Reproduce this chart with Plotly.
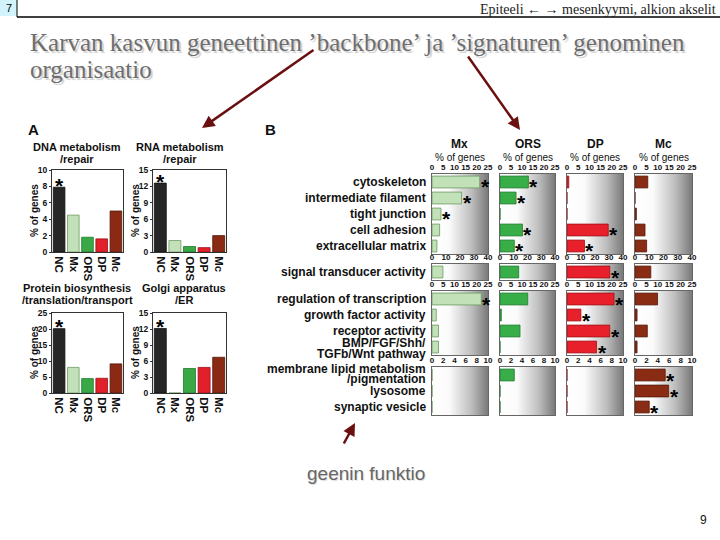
import plotly.graph_objects as go

W, H = 720, 540
SANS = "Arial, 'Liberation Sans', sans-serif"
SERIF = "'Times New Roman', 'Liberation Serif', serif"

# ---------------- data ----------------
cell_groups = ["NC", "Mx", "ORS", "DP", "Mc"]
dna_metabolism = [7.9, 4.5, 1.8, 1.6, 5.0]
rna_metabolism = [12.6, 2.1, 1.0, 0.8, 3.0]
protein_biosynthesis = [20.1, 8.0, 4.5, 4.6, 9.1]
golgi_er = [12.1, 0.0, 4.6, 4.8, 6.7]
a_title_lines = [["DNA metabolism", "/repair"], ["RNA metabolism", "/repair"],
                 ["Protein biosynthesis", "/translation/transport"], ["Golgi apparatus", "/ER"]]
a_ymax = [10, 15, 25, 15]
a_dtick = [2, 3, 5, 3]
a_star_group = "NC"

b_columns = ["Mx", "ORS", "DP", "Mc"]

structure_terms = ["cytoskeleton", "intermediate filament", "tight junction",
                   "cell adhesion", "extracellular matrix"]
structure_mx = [21.3, 13.2, 4.0, 3.4, 2.2]
structure_ors = [12.9, 7.3, 0.0, 10.2, 6.5]
structure_dp = [0.8, 0.0, 0.0, 18.4, 7.8]
structure_mc = [5.6, 0.0, 0.6, 4.4, 5.1]
structure_sig_mx = [1, 1, 1, 0, 0]
structure_sig_ors = [1, 1, 0, 1, 1]
structure_sig_dp = [0, 0, 0, 1, 1]
structure_sig_mc = [0, 0, 0, 0, 0]

signal_terms = ["signal transducer activity"]
signal_mx = [7.8]
signal_ors = [13.6]
signal_dp = [30.6]
signal_mc = [11.1]
signal_sig_mx = [0]
signal_sig_ors = [0]
signal_sig_dp = [1]
signal_sig_mc = [0]

regulation_terms = ["regulation of transcription", "growth factor activity",
                    "receptor activity", "BMP/FGF/Shh/<br>TGFb/Wnt pathway"]
regulation_mx = [22.0, 1.9, 2.9, 2.9]
regulation_ors = [12.6, 0.6, 9.1, 0.0]
regulation_dp = [21.0, 6.2, 19.1, 13.2]
regulation_mc = [9.9, 0.9, 5.4, 0.9]
regulation_sig_mx = [1, 0, 0, 0]
regulation_sig_ors = [0, 0, 0, 0]
regulation_sig_dp = [1, 1, 1, 1]
regulation_sig_mc = [0, 0, 0, 0]

metabolism_terms = ["membrane lipid metabolism<br>/pigmentation", "lysosome", "synaptic vesicle"]
metabolism_mx = [0.0, 0.0, 0.0]
metabolism_ors = [2.6, 0.0, 0.0]
metabolism_dp = [0.0, 0.0, 0.0]
metabolism_mc = [5.3, 5.9, 2.5]
metabolism_sig_mx = [0, 0, 0]
metabolism_sig_ors = [0, 0, 0]
metabolism_sig_dp = [0, 0, 0]
metabolism_sig_mc = [1, 1, 1]

b_axis_max = [25, 40, 25, 10]
b_axis_ticks = [[0, 5, 10, 15, 20, 25], [0, 10, 20, 30, 40],
                [0, 5, 10, 15, 20, 25], [0, 2, 4, 6, 8, 10]]

# ---------------- styling ----------------
a_fill = ["#262626", "#c2e1b8", "#3aa845", "#e2202c", "#8a2a15"]
a_line = ["#111111", "#6f9a64", "#1f7a2c", "#9a1018", "#541708"]
b_fill = {"Mx": "#c2e1b8", "ORS": "#38ae48", "DP": "#e8202b", "Mc": "#8a2b14"}
b_line = {"Mx": "#6a9a5f", "ORS": "#1f7a2e", "DP": "#a01018", "Mc": "#56180a"}
bg_scale = [[0, "#ffffff"], [0.3, "#fbfbfb"], [0.7, "#bdbdbd"], [1, "#777777"]]


def px(x):
    return x / W


def py(y):
    return 1 - y / H


def xd(x0, x1):
    return [px(x0), px(x1)]


def yd(top, bottom):
    return [py(bottom), py(top)]


fig = go.Figure()
layout = {}
annotations = []
shapes = []
ax_i = [0]


def new_axes():
    ax_i[0] += 1
    i = ax_i[0]
    s = "" if i == 1 else str(i)
    return i, "x" + s, "y" + s, "xaxis" + s, "yaxis" + s


def paper_text(x, y, text, font, xanchor="center", **kw):
    d = dict(x=px(x), y=py(y), xref="paper", yref="paper", text=text, showarrow=False,
             xanchor=xanchor, yanchor="middle", font=font)
    d.update(kw)
    annotations.append(d)


star_font = dict(family=SANS, size=21, color="#000", weight="bold")

# ---------------- Panel A ----------------
a_data = [dna_metabolism, rna_metabolism, protein_biosynthesis, golgi_er]
a_boxes = [(52, 123, 170, 252), (153, 226, 170, 252), (52, 123, 313, 393), (153, 226, 313, 393)]
a_title_x = [77, 180, 77, 184]
a_title_y = [(147, 159), (147, 159), (288, 300), (288, 300)]
a_title_font = dict(family=SANS, size=11, color="#111", weight="bold")

for k in range(4):
    i, xr, yr, xk, yk = new_axes()
    x0, x1, t, b = a_boxes[k]
    vals = a_data[k]
    fig.add_trace(go.Bar(x=cell_groups, y=vals, xaxis=xr, yaxis=yr, width=0.82,
                         marker=dict(color=a_fill, line=dict(color=a_line, width=0.8)),
                         showlegend=False, hoverinfo="skip"))
    layout[xk] = dict(domain=xd(x0, x1), anchor=yr, type="category",
                      categoryorder="array", categoryarray=cell_groups,
                      tickmode="array", tickvals=cell_groups, ticktext=cell_groups,
                      tickangle=90, ticks="", showline=True, mirror=True,
                      linecolor="#333", linewidth=1, showgrid=False, ticklabelstandoff=1,
                      tickfont=dict(family=SANS, size=11.5, color="#111", weight="bold"))
    layout[yk] = dict(domain=yd(t, b), anchor=xr, range=[0, a_ymax[k]],
                      tickmode="linear", tick0=0, dtick=a_dtick[k],
                      ticks="outside", ticklen=2, tickcolor="#333", showline=True, mirror=True,
                      linecolor="#333", linewidth=1, showgrid=False, zeroline=False,
                      tickangle=0, ticklabelstandoff=0,
                      tickfont=dict(family=SANS, size=8.5, color="#111", weight="bold"))
    annotations.append(dict(x=a_star_group, y=vals[cell_groups.index(a_star_group)], xref=xr, yref=yr,
                            text="*", showarrow=False, xanchor="center", yanchor="middle", yshift=2,
                            font=star_font))
    paper_text(x0 - 18, (t + b) / 2, "% of genes",
               dict(family=SANS, size=10, color="#111", weight="bold"), textangle=-90)
    for line, yy in zip(a_title_lines[k], a_title_y[k]):
        paper_text(a_title_x[k], yy, line, a_title_font)

# ---------------- Panel B ----------------
b_groups = [
    (structure_terms, [structure_mx, structure_ors, structure_dp, structure_mc],
     [structure_sig_mx, structure_sig_ors, structure_sig_dp, structure_sig_mc]),
    (signal_terms, [signal_mx, signal_ors, signal_dp, signal_mc],
     [signal_sig_mx, signal_sig_ors, signal_sig_dp, signal_sig_mc]),
    (regulation_terms, [regulation_mx, regulation_ors, regulation_dp, regulation_mc],
     [regulation_sig_mx, regulation_sig_ors, regulation_sig_dp, regulation_sig_mc]),
    (metabolism_terms, [metabolism_mx, metabolism_ors, metabolism_dp, metabolism_mc],
     [metabolism_sig_mx, metabolism_sig_ors, metabolism_sig_dp, metabolism_sig_mc]),
]
b_cols_px = [(432, 488), (500, 555), (567, 623), (635, 692)]
b_rows_px = [(174, 254), (264, 280), (291, 355), (367, 415)]
label_font = dict(family=SANS, size=12, color="#111", weight="bold")
# vertical pixel shifts of the two lines of wrapped row labels, per group
two_line_shifts = {2: (4, -7), 3: (6, -4)}

for g, (terms, series, sigs) in enumerate(b_groups):
    n = len(terms)
    pos = list(range(n))
    xmax = b_axis_max[g]
    for c, col in enumerate(b_columns):
        i, xr, yr, xk, yk = new_axes()
        x0, x1 = b_cols_px[c]
        t, b = b_rows_px[g]
        fig.add_trace(go.Heatmap(z=[[0, 1], [0, 1]], x=[0, xmax], y=[-0.5, n - 0.5],
                                 colorscale=bg_scale, zmin=0, zmax=1, zsmooth="best",
                                 showscale=False, hoverinfo="skip", xaxis=xr, yaxis=yr))
        fig.add_trace(go.Bar(x=series[c], y=pos, orientation="h", width=0.74,
                             marker=dict(color=b_fill[col], line=dict(color=b_line[col], width=0.8)),
                             xaxis=xr, yaxis=yr, showlegend=False, hoverinfo="skip"))
        for p, v, s in zip(pos, series[c], sigs[c]):
            if s:
                annotations.append(dict(x=v, y=p, xref=xr, yref=yr, text="*", showarrow=False,
                                        xanchor="left", yanchor="middle", xshift=-1, yshift=-5,
                                        font=star_font))
        layout[xk] = dict(domain=xd(x0, x1), anchor=yr, range=[0, xmax], side="top",
                          tickmode="array", tickvals=b_axis_ticks[g], tickangle=0,
                          ticks="", showline=True, mirror=True,
                          linecolor="#666", linewidth=1, showgrid=False, zeroline=False,
                          ticklabelstandoff=0,
                          tickfont=dict(family=SANS, size=8, color="#111", weight="bold"))
        layout[yk] = dict(domain=yd(t, b), anchor=xr, range=[n - 0.5, -0.5],
                          tickmode="array", tickvals=pos, showticklabels=False, ticks="",
                          showline=True, mirror=True, linecolor="#666", linewidth=1,
                          showgrid=False, zeroline=False)
        if c == 0:
            for p, term in zip(pos, terms):
                lines = term.split("<br>")
                shifts = [0] if len(lines) == 1 else list(two_line_shifts.get(g, (5, -5)))
                for line, sh in zip(lines, shifts):
                    annotations.append(dict(x=px(x0 - 4), y=p, xref="paper", yref=yr, text=line,
                                            showarrow=False, xanchor="right", yanchor="middle",
                                            yshift=sh, font=label_font))

for c, col in enumerate(b_columns):
    cx = (b_cols_px[c][0] + b_cols_px[c][1]) / 2
    paper_text(cx, 144, col, dict(family=SANS, size=12, color="#111", weight="bold"))
    paper_text(cx, 157, "% of genes", dict(family=SANS, size=10, color="#111"))

paper_text(33, 130, "A", dict(family=SANS, size=15, color="#111", weight="bold"))
paper_text(270, 130, "B", dict(family=SANS, size=15, color="#111", weight="bold"))

# ---------------- slide decoration ----------------
shapes.append(dict(type="rect", xref="paper", yref="paper", x0=px(0), x1=px(17), y0=py(16), y1=py(0),
                   fillcolor="#d2f3fb", line=dict(width=0)))
shapes.append(dict(type="line", xref="paper", yref="paper", x0=px(17), x1=px(17), y0=py(17), y1=py(0),
                   line=dict(color="#000", width=1)))
shapes.append(dict(type="line", xref="paper", yref="paper", x0=px(17), x1=px(720), y0=py(17), y1=py(17),
                   line=dict(color="#000", width=1.5)))
paper_text(8.5, 8, "7", dict(family=SANS, size=11, color="#000"))
paper_text(718, 9, "Epiteeli \u2190 \u2192 mesenkyymi, alkion akselit",
           dict(family=SERIF, size=14, color="#222"), xanchor="right")
for txt, yy in [("Karvan kasvun geneettinen \u2019backbone\u2019 ja \u2019signaturen\u2019 genominen", 43),
                ("organisaatio", 69)]:
    paper_text(28, yy, txt, dict(family=SERIF, size=25, color="#6e6e6e", shadow="2px 2px 1px #cfcfcf"),
               xanchor="left")

arrow_color = "#6b1010"
for (hx, hy, tx, ty) in [(202, 128, 315, 49), (520, 130, 467, 55), (355, 423, 343, 445)]:
    annotations.append(dict(x=px(hx), y=py(hy), xref="paper", yref="paper", ax=tx - hx, ay=ty - hy,
                            axref="pixel", ayref="pixel", text="", showarrow=True, arrowhead=2,
                            arrowsize=1, arrowwidth=2.5, arrowcolor=arrow_color))

paper_text(305, 473, "geenin funktio",
           dict(family=SANS, size=19, color="#666", shadow="1px 1px 1px #dddddd"), xanchor="left")
paper_text(703, 520, "9", dict(family=SANS, size=12, color="#111"))

fig.update_layout(width=W, height=H, margin=dict(l=0, r=0, t=0, b=0, autoexpand=False), autosize=False,
                  paper_bgcolor="white", plot_bgcolor="rgba(0,0,0,0)", showlegend=False,
                  annotations=annotations, shapes=shapes, **layout)

fig.write_html("out.html", config={"displayModeBar": False},
               post_script="document.body.style.margin='0';document.body.style.overflow='hidden';")
